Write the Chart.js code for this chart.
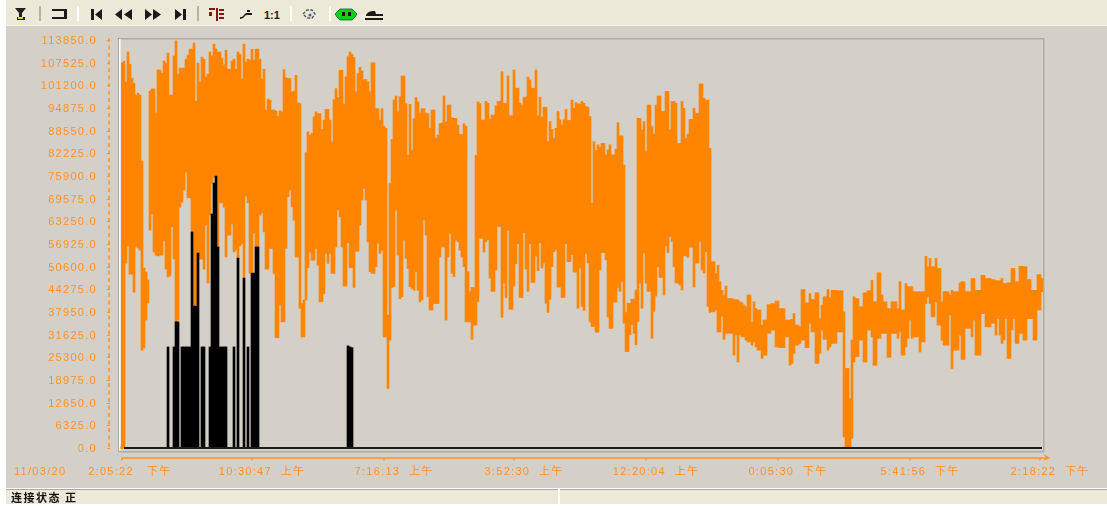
<!DOCTYPE html>
<html><head><meta charset="utf-8">
<script src="https://cdn.jsdelivr.net/npm/chart.js@4/dist/chart.umd.min.js"></script>
<style>
html,body{margin:0;padding:0;background:#fff;width:1107px;height:506px;overflow:hidden}
#panel{position:absolute;left:6px;top:26px;width:1101px;height:462px;background:#d4d0c8}
#bar{position:absolute;left:6px;top:0;width:1101px;height:25px;background:#ece9d8;border-bottom:1px solid #f6f4ea}
#tools{position:absolute;left:0;top:0}
#c{position:absolute;left:0;top:0;filter:blur(.35px)}
#status{position:absolute;left:6px;top:489px;width:1101px;height:14px;background:#ece9d8;border-top:1px solid #a9a79c;font:bold 11px "Noto Sans CJK SC";letter-spacing:1.5px;color:#111;line-height:14px;text-indent:5px;filter:blur(.3px)}
#sep{position:absolute;left:558px;top:489px;width:2px;height:17px;background:#fff}
</style></head><body>
<div id="panel"></div><div id="bar"></div>
<svg id="tools" width="400" height="25" viewBox="0 0 400 25">
<g fill="#1a1a1a">
<path d="M15 8h11l-4 5v4h3v3h-8v-3h2v-4z" fill="#222"/><rect x="18" y="17" width="5" height="2" fill="#e6d820"/>
<path d="M52 9h15v2H52zM52 17h15v2H52zM64 9h3v10h-3z"/>
<path d="M91 9h3v11h-3zM102 9v11l-7-5.5z"/>
<path d="M115 14.500l7-5.500v11zM124 14.500l8-5.500v11z"/>
<path d="M145 9l7 5.500-7 5.500zM153 9l8 5.500-8 5.500z"/>
<path d="M175 9l7 5.500-7 5.500zM183 9h3v11h-3z"/>
<path d="M240 19l3-1 3-3h6v-2h-6l-4 4h-2zM247 10h3v2h-3z"/>
<path d="M366 15c2-4 6-4 9-4l1 3h7v2h-17zM365 18h18v2h-18z"/>
</g>
<path d="M209 8h6v2h-6zM209 12h3v4h-3zM216 8h2v13h-2zM219 9h5v2h-5zM219 13h5v2h-5zM219 17h5v2h-5z" fill="#8a1414"/>
<path d="M303 14l4-4h5l3 4-3 4h-5z" fill="none" stroke="#555" stroke-width="1.400" stroke-dasharray="3 1.500"/><circle cx="310" cy="15" r="1.500" fill="#3060d0"/>
<path d="M340 9h12l3 3 2 2-2 3-3 3h-12l-3-3-2-3 2-2z" fill="#10d010" stroke="#064" stroke-width=".8"/><rect x="342" y="12" width="3" height="4" fill="#111"/><rect x="348" y="12" width="3" height="4" fill="#111"/>
<g fill="#b5b3a8"><rect x="39" y="6" width="2" height="15"/><rect x="197" y="6" width="2" height="15"/></g>
<g fill="#fff"><rect x="77" y="6" width="2" height="15"/><rect x="290" y="6" width="2" height="15"/><rect x="329" y="6" width="2" height="15"/></g>
<text x="264" y="19" font-family="Liberation Sans" font-weight="bold" font-size="11" fill="#222">1:1</text>
</svg>
<canvas id="c" width="1107" height="506"></canvas>
<div id="status">连接状态 正</div><div id="sep"></div>
<script>
const yTickLabels=["0.0","6325.0","12650.0","18975.0","25300.0","31625.0","37950.0","44275.0","50600.0","56925.0","63250.0","69575.0","75900.0","82225.0","88550.0","94875.0","101200.0","107525.0","113850.0"];
const xTickLabels=["11/03/20     2:05:22   下午                  ","10:30:47  上午","7:16:13  上午","3:52:30  上午","12:20:04  上午","0:05:30  下午","5:41:56  下午","2:18:22  下午"];
const xTickBins=[0,65,131,196,262,328,394,459];
// orange series: upper and lower envelope per time bin, in thousands
const orangeHigh=[
107.4,108,102.1,110.5,107.1,103.2,101.8,98.5,99,98.5,80.1,50.2,49.1,46.9,99.6,100.2,100.2,93.5,105.5,105.5,104.6,108,107.4,110.2,98.5,98.5,109.4,113.6,104.3,106,106,106,108.5,109.6,111.3,111.3,113,96.8,107.4,102.1,109.1,108.5,103.5,104.3,110.5,109.4,112.7,111.3,110.5,110.5,108.8,106.9,111,105.7,105.7,108,108.5,105.7,110.5,109.9,103,112.7,107.7,108.5,108.3,111.3,108.3,111.3,111.3,108.5,103,105.7,94.3,97.4,
97.1,94.3,94.3,94,92.6,94.1,93.8,105.6,103.3,103.1,103.1,99.4,99.6,104,96.3,96.1,40.3,41.3,82.4,88.2,87.3,87.8,92.4,93.8,93.3,93.3,88.9,91.5,94.5,94.5,91.5,85.4,97.2,100.3,97.8,105.4,105.4,96,103.6,109.2,110.5,109.9,109,99.4,104.5,106.2,105.2,102.8,102.8,102.2,99.4,107.5,107.5,94.7,94.7,91.5,94.7,89.8,89.2,37.1,73.8,86.1,97.1,98.2,93.8,98,103.8,103.8,96.1,81.7,95.9,83.1,91.9,97.8,96.6,93.5,94.7,94.7,93.5,93.3,89.2,94.3,94.3,86.4,87.3,90.5,90.7,98.2,91,95.7,95.7,92.2,92,92,90.1,87.5,87.5,90.5,89.8,49.2,43.6,44.8,44.8,81.7,96.6,96.1,91.5,91.5,
96.7,96.2,91.7,92.9,92.9,95.5,96.7,96.7,105,96.2,96.2,103.8,92.7,92.7,105.5,100.4,100.4,96.2,95.7,97.9,97.9,103.5,102.7,100.4,100.4,105.5,92.7,97.9,92.3,95.1,95.1,85.5,91.1,88.9,86.4,89.2,93.9,91.6,90.2,91.6,94.5,91.4,91.4,97.1,94.8,96.4,96,96,96.7,96.2,95.3,95.1,92.5,68.3,85.5,83,84.6,83.9,85,85,81.8,83.2,84.6,81.8,81.8,83.4,90.8,87.1,87.1,79,37.8,40.4,40.4,41.5,41.5,44.1,92,92,88.8,91.1,82.7,95.7,95.7,89.7,87.6,95.7,98.2,98.2,93.9,93.9,99.5,99.5,88.8,96.7,96.7,96.2,85,85,96.7,94.8,86.4,87.6,91.7,91.7,94.8,93.4,93.4,101.6,101.6,97.6,97.1,97.1,83.6,
52,52,48.7,51,46.4,44,42.7,45.2,41.7,41.7,41.7,41.4,41.4,41.3,40.8,40.5,39.9,39.4,42.7,42.7,35.2,40.8,38.9,38.5,38.5,34.3,35.7,35.7,40,40,40.3,40.3,41,41,38.9,38.9,38.9,35.7,35.7,35.7,35.9,37.5,34.3,34.3,33.8,44.2,44.2,40.5,40.5,43.1,41.4,41.4,43.3,43.3,36.1,39.9,42.2,42.2,44.2,42,44,44,44,43.9,43.9,43.9,38,22.2,22.2,13.8,30.1,42.2,41.7,41.7,39.4,39.4,43.3,43.3,43.9,43.9,46.8,40.8,40.8,48.9,48.9,42.7,40.8,40.8,38.9,38.9,40.8,40.8,40.8,38.9,46.4,38.5,38.5,45.9,45,45,45,43.6,43.6,43.6,43.6,43.6,43.6,53.5,50.6,52.9,50.6,50.6,52.9,50.1,50.1,40.8,43.6,43.6,43.6,42.7,44,43.6,43.6,43.6,46.1,46.4,46.4,43.6,43.6,43.6,47.3,47.3,44,44,44,48.2,48.2,47.3,47.3,47.3,47,47,46.7,46.7,46.7,47.3,45.9,45.9,46.1,46.1,50.1,50.1,46.4,46.4,50.7,50.7,50.6,50.6,47,47,44,44,44,48.4,48.4,47.3
];
const orangeLow=[
0,0,51.6,56.4,48.5,48.5,43.5,56.1,55.8,55.2,27.3,27.9,35.7,40.5,60.8,65.3,54.7,53.8,53.6,53.8,53.8,57.8,49.9,47.7,48,61.7,52.7,35.2,35.7,67.2,68.6,72,77,69.8,69.8,60.3,39.6,39.9,54.4,52.7,52.7,49.9,62.2,46,65,73.9,75.6,75.6,56,68.4,68.4,67.2,53.3,59.4,59.4,62.5,54.7,55.2,53,56.4,56.9,47.4,70.3,68.4,48.8,48.8,60,56,56,65,65.6,60.3,49.9,49.9,
55.7,55.7,48.7,30.8,30.8,39.9,35.2,35.2,55.7,70.1,72,67.3,63.6,53.3,53.3,39,31,31,41.3,50.3,54.7,52.4,52.4,55.7,51,40.8,40.8,43.1,54.3,51.5,54.3,48.7,48.7,56.1,66.4,64.5,56.1,45.2,45.2,57.3,50.3,50.3,44.8,54.9,54.9,62.2,69.2,72.4,69.2,57.5,49.2,48.7,48.7,50.6,57.1,54.3,55.2,31,31,16.6,30.1,44.8,45,66.4,53.8,41.7,42.2,58,52.9,50.1,45,44.5,44,49.2,44,40.8,41.3,63.6,59.4,42.2,38.5,38.5,40.3,40.3,40.3,53.3,56.1,56.1,35.7,53.3,59.9,48.7,47.8,58,57.5,55.2,53.3,50.6,35.2,35.2,35.2,30.3,34.3,34.3,40.8,58.5,58.5,54.7,
57.6,58.1,47.4,43.7,43.7,49.7,61.8,61.8,36.5,46,42,60.7,38.7,38.7,45.2,51.4,57,42,42,60.1,49.9,43.7,57,46.2,46.2,53.6,49.5,57.3,50.2,51.6,40.4,37.8,41.5,50.6,54.8,55.3,44.9,44.9,42,42,57,52,52,53.9,49.1,49.1,39,50.2,39.5,38.4,54.3,51.6,35.3,33.9,33.9,32.3,32.3,49.7,54.5,54.5,52.5,36.5,33.4,33.4,40.7,40.7,44.8,43.7,46.4,34.8,26.9,26.9,31.6,34.4,32,28.8,35.3,46,39,54.4,46,43.7,43.7,30.6,38.1,42.4,50.6,47.6,47.6,42.7,56.4,54.5,59,57.6,50.6,46,46,45.5,44.1,53.6,53.6,53.2,56,56,44.9,51.6,51.6,57.6,49.7,48.8,54.8,39.5,37.8,
38,38,38.5,32.4,32.4,36.8,30.3,32,32,32,32,25.9,31.5,24,31.5,31,31,30.1,29.6,29.6,28.7,29.6,28.2,27.3,27.3,25,25.9,25.9,32,32,32.9,32.9,28.2,28.2,28,28,28,31,31,23.1,23.6,26.4,28.7,28.7,29.2,30.1,30.1,28,28,34.8,32.4,32.4,23.6,23.6,26.4,32.9,30.3,30.3,27.3,28.2,29.2,29.2,29.2,32.4,32.4,32.4,3.1,0,0,0,2.7,24,25.5,25.5,30.1,30.1,24,24,32.9,32.9,31,23.1,23.1,30.6,30.6,32,32,32,25.3,25.3,32,32,32,30.6,32.4,25.9,25.9,28.2,30.6,35.7,30.6,31,31,31,26.8,29.6,29.6,40.3,42.2,40.3,36.6,36.6,40.8,34.3,34.3,30.1,28.7,28.7,28.7,37.1,22.2,27.3,27.3,27.3,31.5,24.7,24.7,33.4,33.4,33.4,31,35.7,25.9,25.9,25.9,37.5,37.5,33.8,33.8,33.8,34.8,34.8,31.5,36.1,31.5,29.2,30.1,36.1,25,25,32.9,36.1,29.2,29.2,32,32,30.1,30.1,36.1,36.1,36.1,30.1,30.1,38.5,38.5,43.6
];
// black series: the bins where it rises above zero, and its value there, in thousands
const blackBins=[23,26,27,28,30,31,32,33,34,35,36,37,38,40,41,44,45,46,47,48,49,50,51,52,56,58,61,63,65,66,67,68,113,114,115];
const blackValues=[28.2,28.2,35.2,35.2,28.2,28.2,28.2,28.2,28.2,60.3,39.6,39.6,54.4,28.2,28.2,28.2,65.3,73.9,75.9,56.1,28.2,28.2,28.2,28.2,28.2,53,47.4,28.2,48.8,48.8,56.1,56.1,28.5,28.2,28];

const ORANGE='#ff8500', TEXT='#ff9126';
const bins=orangeHigh.map((_,i)=>i);
const orangeBars=bins.map(i=>[orangeLow[i],orangeHigh[i]]);
const blackBars=bins.map(i=>{const k=blackBins.indexOf(i);return k<0?null:[0,blackValues[k]];});
const yTickValues=yTickLabels.map(s=>parseFloat(s)/1000);
const font={family:'"Liberation Sans","Noto Sans CJK SC"',size:11};

const decor={
  id:'decor',
  beforeUpdate(ch){ch.ctx.letterSpacing='1.3px';},
  beforeDatasetsDraw(ch){
    const c=ch.ctx,{left,right,top,bottom}=ch.chartArea;
    c.save();
    c.fillStyle='#aeaca2';c.fillRect(left-3,top-2,right-left+4,1.5);c.fillRect(right,top-2,1.5,bottom-top+6);c.fillRect(left-3,bottom+3,right-left+4,1.5);c.fillRect(left-3,top-2,1.5,bottom-top+6);
    c.fillStyle='#fff';c.fillRect(left-2,top-1,1.5,bottom-top+4);
    c.restore();
  },
  afterDatasetsDraw(ch){
    const c=ch.ctx,{left,right,bottom}=ch.chartArea,y=ch.scales.y,x=ch.scales.x;
    c.save();
    c.fillStyle='#1c1c1c';c.fillRect(left+3,y.getPixelForValue(0)-1,right-left-4,2);
    c.fillStyle=ORANGE;c.fillRect(left-.5,y.getPixelForValue(0)-2,3,3);
    // value axis
    c.strokeStyle=TEXT;c.lineWidth=1.5;c.setLineDash([4,3.500]);
    c.beginPath();c.moveTo(109,y.top-2);c.lineTo(109,bottom+1);c.stroke();c.setLineDash([]);
    c.lineWidth=1;
    y.ticks.forEach(t=>{const p=Math.round(y.getPixelForValue(t.value))+.5;c.beginPath();c.moveTo(107,p);c.lineTo(110,p);c.stroke();});
    // time axis
    const ay=458;
    c.lineWidth=1.3;c.beginPath();c.moveTo(left,ay);c.lineTo(1048,ay);c.moveTo(1044,ay-3);c.lineTo(1049,ay);c.lineTo(1044,ay+2);c.stroke();
    x.ticks.forEach((t,i)=>{const p=x.getPixelForTick(i);c.beginPath();c.moveTo(p,ay);c.lineTo(p,ay+2.500);c.stroke();});
    c.restore();
  }
};

new Chart(document.getElementById('c'),{
  type:'bar',
  plugins:[decor],
  data:{labels:bins,datasets:[
    {label:'orange',data:orangeBars,backgroundColor:ORANGE,order:2,categoryPercentage:1,barPercentage:1,borderWidth:0,grouped:false},
    {label:'black',data:blackBars,backgroundColor:'#000',order:1,categoryPercentage:1,barPercentage:1,borderWidth:0,grouped:false}
  ]},
  options:{
    responsive:false,animation:false,
    layout:{padding:{top:40,right:64,bottom:0,left:0}},
    plugins:{legend:{display:false},tooltip:{enabled:false}},
    scales:{
      x:{grid:{display:false,drawTicks:false},border:{display:false},
        afterFit(s){s.height=58;s.paddingLeft=0;s.paddingRight=0;},
        afterBuildTicks(s){s.ticks=xTickBins.map(v=>({value:v}));},
        ticks:{autoSkip:false,maxRotation:0,minRotation:0,padding:17,labelOffset:10,color:TEXT,font,
          callback(v){const k=xTickBins.indexOf(v);return k<0?'':xTickLabels[k];}}},
      y:{min:0,max:yTickValues[yTickValues.length-1],grid:{display:false,drawTicks:false},border:{display:false},
        afterFit(s){s.width=121;},
        afterBuildTicks(s){s.ticks=yTickValues.map(v=>({value:v}));},
        ticks:{padding:24,labelOffset:1,color:TEXT,font,callback(v){const k=yTickValues.indexOf(v);return k<0?'':yTickLabels[k];}}}
    }
  }
});
</script>
</body></html>
